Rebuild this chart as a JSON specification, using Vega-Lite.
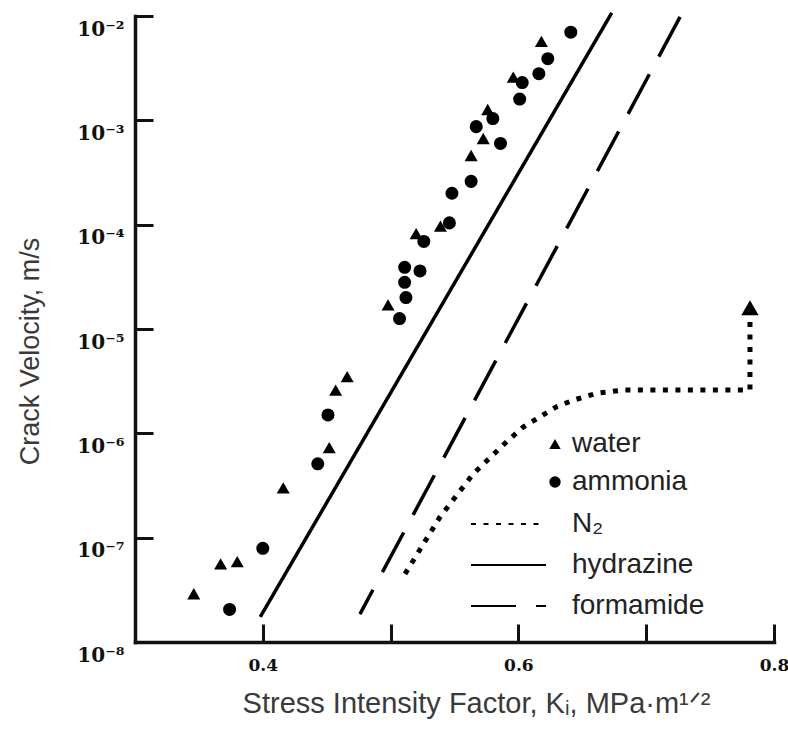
{
  "$schema": "https://vega.github.io/schema/vega-lite/v6.json",
  "width": 639,
  "height": 626,
  "autosize": {"type": "none"},
  "padding": {"left": 135, "top": 16, "right": 14, "bottom": 91},
  "background": "white",
  "config": {
    "view": {"stroke": null},
    "axis": {"grid": false, "domainColor": "#111", "domainWidth": 3.5, "tickColor": "#111", "tickWidth": 3, "domainCap": "square"},
    "legend": {"padding": 0, "titlePadding": 0}
  },
  "datasets": {
    "pts": [
      {"series": "water", "K": 0.346, "v": 2.9e-8},
      {"series": "water", "K": 0.367, "v": 5.6e-8},
      {"series": "water", "K": 0.380, "v": 5.9e-8},
      {"series": "water", "K": 0.416, "v": 3.0e-7},
      {"series": "water", "K": 0.452, "v": 7.3e-7},
      {"series": "water", "K": 0.457, "v": 2.6e-6},
      {"series": "water", "K": 0.466, "v": 3.5e-6},
      {"series": "water", "K": 0.498, "v": 1.7e-5},
      {"series": "water", "K": 0.520, "v": 8.2e-5},
      {"series": "water", "K": 0.539, "v": 9.7e-5},
      {"series": "water", "K": 0.563, "v": 4.6e-4},
      {"series": "water", "K": 0.5725, "v": 6.7e-4},
      {"series": "water", "K": 0.576, "v": 1.27e-3},
      {"series": "water", "K": 0.596, "v": 2.6e-3},
      {"series": "water", "K": 0.618, "v": 5.7e-3},
      {"series": "ammonia", "K": 0.374, "v": 2.05e-8},
      {"series": "ammonia", "K": 0.400, "v": 7.9e-8},
      {"series": "ammonia", "K": 0.443, "v": 5.1e-7},
      {"series": "ammonia", "K": 0.451, "v": 1.5e-6},
      {"series": "ammonia", "K": 0.507, "v": 1.26e-5},
      {"series": "ammonia", "K": 0.512, "v": 2.0e-5},
      {"series": "ammonia", "K": 0.511, "v": 2.8e-5},
      {"series": "ammonia", "K": 0.511, "v": 3.9e-5},
      {"series": "ammonia", "K": 0.523, "v": 3.6e-5},
      {"series": "ammonia", "K": 0.526, "v": 6.9e-5},
      {"series": "ammonia", "K": 0.546, "v": 1.04e-4},
      {"series": "ammonia", "K": 0.548, "v": 2.0e-4},
      {"series": "ammonia", "K": 0.563, "v": 2.6e-4},
      {"series": "ammonia", "K": 0.567, "v": 8.7e-4},
      {"series": "ammonia", "K": 0.580, "v": 1.04e-3},
      {"series": "ammonia", "K": 0.586, "v": 6.0e-4},
      {"series": "ammonia", "K": 0.601, "v": 1.6e-3},
      {"series": "ammonia", "K": 0.603, "v": 2.3e-3},
      {"series": "ammonia", "K": 0.616, "v": 2.8e-3},
      {"series": "ammonia", "K": 0.623, "v": 3.9e-3},
      {"series": "ammonia", "K": 0.641, "v": 7.0e-3}
    ],
    "curves": [
      {"series": "hydrazine", "i": 0, "K": 0.398, "v": 1.74e-8},
      {"series": "hydrazine", "i": 1, "K": 0.673, "v": 1.07e-2},
      {"series": "formamide", "i": 0, "K": 0.7265, "v": 9.8e-3},
      {"series": "formamide", "i": 1, "K": 0.476, "v": 1.85e-8},
      {"series": "N₂", "i": 0, "K": 0.5113, "v": 4.5e-8},
      {"series": "N₂", "i": 1, "K": 0.5387, "v": 1.58e-7},
      {"series": "N₂", "i": 2, "K": 0.5647, "v": 4.1e-7},
      {"series": "N₂", "i": 3, "K": 0.5908, "v": 8.3e-7},
      {"series": "N₂", "i": 4, "K": 0.6038, "v": 1.15e-6},
      {"series": "N₂", "i": 5, "K": 0.6169, "v": 1.44e-6},
      {"series": "N₂", "i": 6, "K": 0.6299, "v": 1.8e-6},
      {"series": "N₂", "i": 7, "K": 0.643, "v": 2.08e-6},
      {"series": "N₂", "i": 8, "K": 0.6613, "v": 2.42e-6},
      {"series": "N₂", "i": 9, "K": 0.682, "v": 2.6e-6},
      {"series": "N₂", "i": 10, "K": 0.7812, "v": 2.6e-6},
      {"series": "N₂", "i": 11, "K": 0.7812, "v": 1.27e-5}
    ],
    "arrow": [
      {"series": "N₂", "K": 0.7812, "v": 1.6e-5}
    ]
  },
  "encoding": {
    "x": {
      "field": "K", "type": "quantitative",
      "scale": {"domain": [0.3, 0.8], "nice": false, "zero": false},
      "axis": {
        "values": [0.4, 0.5, 0.6, 0.7, 0.8],
        "labelExpr": "datum.value == 0.5 || datum.value == 0.7 ? '' : format(datum.value, '.1f')",
        "tickSize": -18, "labelPadding": 33, "labelFlush": false, "labelOverlap": false,
        "labelFont": "DejaVu Serif", "labelFontWeight": "bold", "labelFontSize": 17, "labelColor": "#111",
        "title": "Stress Intensity Factor, Kᵢ, MPa·m¹ᐟ²",
        "titleFont": "Liberation Sans", "titleFontSize": 29, "titleFontWeight": "normal", "titleColor": "#3a3a3a",
        "titleX": 341, "titleY": 61, "titleAlign": "center", "titleBaseline": "middle"
      }
    },
    "y": {
      "field": "v", "type": "quantitative",
      "scale": {"type": "log", "domain": [1e-8, 1e-2], "nice": false},
      "axis": {
        "values": [1e-8, 1e-7, 1e-6, 1e-5, 1e-4, 1e-3, 1e-2],
        "labelExpr": "'10' + ['⁻²','⁻³','⁻⁴','⁻⁵','⁻⁶','⁻⁷','⁻⁸'][-2 - round(log(datum.value)/LN10)]",
        "tickSize": -18, "labelPadding": 29, "labelFlush": false, "labelOverlap": false,
        "labelFont": "DejaVu Serif", "labelFontWeight": "bold", "labelFontSize": 20, "labelColor": "#111",
        "labelBaseline": "middle", "labelOffset": 13,
        "title": "Crack Velocity, m/s",
        "titleFont": "Liberation Sans", "titleFontSize": 27, "titleFontWeight": "normal", "titleColor": "#3a3a3a",
        "titleX": -105, "titleY": 335, "titleAngle": 270, "titleAlign": "center", "titleBaseline": "middle"
      }
    }
  },
  "layer": [
    {
      "data": {"name": "curves"},
      "transform": [{"filter": "datum.series !== 'N₂'"}],
      "mark": {"type": "line", "color": "black", "strokeWidth": 3.5, "strokeCap": "butt"},
      "encoding": {
        "order": {"field": "i", "type": "quantitative"},
        "strokeDash": {
          "field": "series", "type": "nominal",
          "scale": {"domain": ["N₂", "hydrazine", "formamide"], "range": [[5, 7.5], [1, 0], [45, 20]]},
          "legend": {
            "title": null, "orient": "none", "legendX": 397, "legendY": 494,
            "labelFont": "Liberation Sans", "labelFontSize": 28, "labelColor": "#222", "labelOffset": 12,
            "symbolSize": 100, "symbolStrokeWidth": 2, "symbolStrokeColor": "black", "rowPadding": 13,
            "encode": {"symbols": {"update": {
              "shape": {"value": "M-15,0H0"},
              "stroke": {"value": "black"},
              "strokeWidth": {"value": 2},
              "strokeDash": {"signal": "datum.value === 'N₂' ? [8.5, 6] : datum.value === 'formamide' ? [25, 25] : [1, 0]"}
            }}}
          }
        }
      }
    },
    {
      "data": {"name": "curves"},
      "transform": [{"filter": "datum.series === 'N₂'"}],
      "mark": {"type": "line", "color": "black", "strokeWidth": 5, "strokeCap": "butt"},
      "encoding": {
        "order": {"field": "i", "type": "quantitative"},
        "strokeDash": {
          "field": "series", "type": "nominal",
          "scale": {"domain": ["N₂", "hydrazine", "formamide"], "range": [[5, 7.5], [1, 0], [45, 20]]},
          "legend": {
            "title": null, "orient": "none", "legendX": 397, "legendY": 494,
            "labelFont": "Liberation Sans", "labelFontSize": 28, "labelColor": "#222", "labelOffset": 12,
            "symbolSize": 100, "symbolStrokeWidth": 2, "symbolStrokeColor": "black", "rowPadding": 13,
            "encode": {"symbols": {"update": {
              "shape": {"value": "M-15,0H0"},
              "stroke": {"value": "black"},
              "strokeWidth": {"value": 2},
              "strokeDash": {"signal": "datum.value === 'N₂' ? [8.5, 6] : datum.value === 'formamide' ? [25, 25] : [1, 0]"}
            }}}
          }
        }
      }
    },
    {
      "data": {"name": "arrow"},
      "mark": {"type": "point", "shape": "triangle-up", "filled": true, "color": "black", "opacity": 1, "size": 300, "strokeWidth": 0}
    },
    {
      "data": {"name": "pts"},
      "mark": {"type": "point", "filled": true, "color": "black", "opacity": 1, "size": 170, "strokeWidth": 0},
      "encoding": {
        "shape": {
          "field": "series", "type": "nominal",
          "scale": {"domain": ["water", "ammonia"], "range": ["triangle-up", "circle"]},
          "legend": {
            "title": null, "orient": "none", "legendX": 406, "legendY": 414,
            "labelFont": "Liberation Sans", "labelFontSize": 28, "labelColor": "#222", "labelOffset": 3,
            "symbolSize": 130, "symbolStrokeWidth": 0, "symbolFillColor": "black", "symbolOpacity": 1, "rowPadding": 10
          }
        }
      }
    }
  ]
}
